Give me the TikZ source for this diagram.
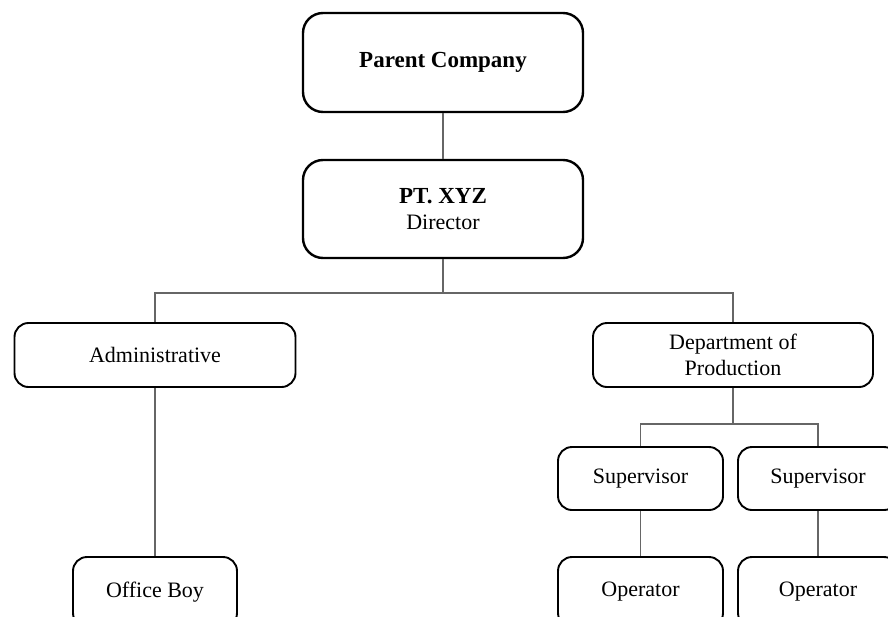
\documentclass[tikz,border=0pt]{standalone}
\usepackage{fontspec}
\setmainfont{Liberation Serif}
\begin{document}
\begin{tikzpicture}[x=1pt,y=-1pt,
  box/.style={draw=black, line width=2.4pt, rounded corners=20pt, align=center,
    font=\fontsize{22}{26.5}\selectfont, inner sep=0pt, fill=white},
  smallbox/.style={box, rounded corners=14pt, line width=1.9pt},
  boldtext/.style={font=\fontsize{23}{26.5}\selectfont\bfseries},
  link/.style={draw=black!60, line width=1.3pt}]
\clip (0,0) rectangle (888,616);
\fill[white] (0,0) rectangle (888,616);
\coordinate (bar) at (443,293);
\coordinate (bar2) at (733,424);
\node[box, boldtext, minimum width=280, minimum height=99] (parent) at (443,62.5) {Parent Company};
\node[box, minimum width=280, minimum height=98] (pt) at (443,209) {{\fontsize{23}{26.5}\selectfont\bfseries PT. XYZ}\\Director};
\node[smallbox, minimum width=281, minimum height=64] (admin) at (155,355) {Administrative};
\node[smallbox, minimum width=280, minimum height=64] (dept) at (733,355) {Department of\\Production};
\node[smallbox, minimum width=165, minimum height=63] (sup1) at (640.5,478.5) {Supervisor};
\node[smallbox, minimum width=160, minimum height=63] (sup2) at (818,478.5) {Supervisor};
\node[smallbox, minimum width=164, minimum height=70] (office) at (155,592) {Office Boy};
\node[smallbox, minimum width=165, minimum height=70] (op1) at (640.5,592) {Operator};
\node[smallbox, minimum width=160, minimum height=70] (op2) at (818,592) {Operator};
\draw[link] (parent.south) -- (pt.north);
\draw[link] (pt.south) -- (bar);
\draw[link] (admin.north) |- (bar) -| (dept.north);
\draw[link] (admin.south) -- (office.north);
\draw[link] (dept.south) -- (bar2);
\draw[link] (sup1.north) |- (bar2) -| (sup2.north);
\draw[link] (sup1.south) -- (op1.north);
\draw[link] (sup2.south) -- (op2.north);
\end{tikzpicture}
\end{document}
